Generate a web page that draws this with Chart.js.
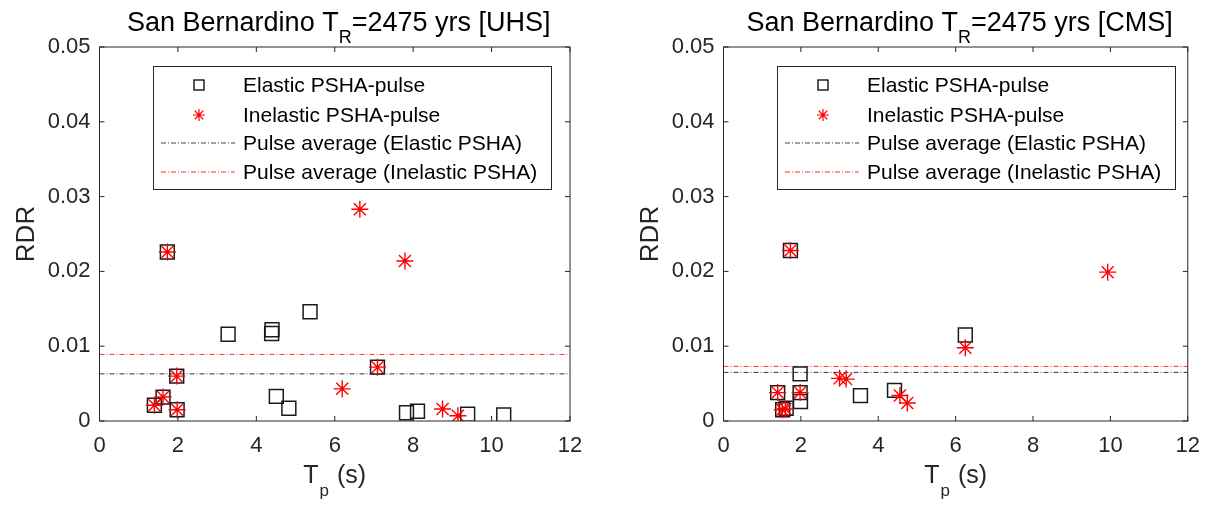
<!DOCTYPE html>
<html>
<head>
<meta charset="utf-8">
<script src="https://cdn.jsdelivr.net/npm/chart.js@4/dist/chart.umd.min.js"></script>
<style>
  body { margin: 0; background: #fff; }
  .wrap { position: relative; width: 1212px; height: 505px; }
  .panel { position: absolute; top: 0; }
</style>
</head>
<body>
<div class="wrap">
  <canvas id="uhsChart" class="panel" style="left:0" width="606" height="505"></canvas>
  <canvas id="cmsChart" class="panel" style="left:606px" width="606" height="505"></canvas>
</div>
<script>
// pulse period (s) and RDR, UHS case
const tpElasticUHS = [1.40, 1.62, 1.73, 1.97, 1.98, 3.28, 4.39, 4.40, 4.51, 4.83, 5.37, 7.09, 7.83, 8.11, 9.39, 10.31];
const rdrElasticUHS = [0.0021, 0.0032, 0.0226, 0.0060, 0.0015, 0.0116, 0.0117, 0.0122, 0.0033, 0.0017, 0.0146, 0.0072, 0.0011, 0.0013, 0.0009, 0.0008];
const tpInelasticUHS = [1.40, 1.62, 1.73, 1.97, 1.98, 6.19, 6.64, 7.09, 7.79, 8.75, 9.14];
const rdrInelasticUHS = [0.0021, 0.0032, 0.0226, 0.0060, 0.0015, 0.0043, 0.0283, 0.0072, 0.0214, 0.0016, 0.0007];
const avgUHS = [0.0063, 0.0089]; // elastic, inelastic

// CMS case
const tpElasticCMS = [1.40, 1.53, 1.62, 1.73, 1.98, 1.98, 1.99, 3.54, 4.42, 6.25];
const rdrElasticCMS = [0.0038, 0.0015, 0.0017, 0.0228, 0.0063, 0.0038, 0.0026, 0.0034, 0.0041, 0.0115];
const tpInelasticCMS = [1.40, 1.52, 1.60, 1.73, 1.98, 3.00, 3.17, 4.56, 4.75, 6.25, 9.93];
const rdrInelasticCMS = [0.0038, 0.0015, 0.0016, 0.0228, 0.0038, 0.0057, 0.0056, 0.0034, 0.0024, 0.0098, 0.0199];
const avgCMS = [0.0065, 0.0073];

const xTicks = [0, 2, 4, 6, 8, 10, 12];
const yTicks = [0, 0.01, 0.02, 0.03, 0.04, 0.05];
const legendLabels = ['Elastic PSHA-pulse', 'Inelastic PSHA-pulse',
  'Pulse average (Elastic PSHA)', 'Pulse average (Inelastic PSHA)'];

const FONT = "'Liberation Sans', Arial, Helvetica, sans-serif";
const INK = '#262626';
const DASHDOT = [5, 2, 1, 2];

function pts(xs, ys) {
  return xs.map((x, i) => ({ x: x, y: ys[i] }));
}

function flat(v) {
  return [{ x: xTicks[0], y: v }, { x: xTicks[xTicks.length - 1], y: v }];
}

function drawStar(ctx, x, y, r) {
  ctx.beginPath();
  for (let k = 0; k < 4; k++) {
    const a = k * Math.PI / 4;
    ctx.moveTo(x - r * Math.cos(a), y - r * Math.sin(a));
    ctx.lineTo(x + r * Math.cos(a), y + r * Math.sin(a));
  }
  ctx.stroke();
}

// frame, inward ticks, titles and the boxed legend
const decorations = {
  id: 'decorations',
  afterDraw(chart, args, opts) {
    const ctx = chart.ctx;
    const a = chart.chartArea;
    const xs = chart.scales.x, ys = chart.scales.y;
    ctx.save();

    ctx.strokeStyle = INK;
    ctx.lineWidth = 1;
    ctx.strokeRect(a.left, a.top, a.right - a.left, a.bottom - a.top);
    ctx.beginPath();
    xTicks.forEach(v => {
      const px = xs.getPixelForValue(v);
      ctx.moveTo(px, a.bottom); ctx.lineTo(px, a.bottom - 5);
      ctx.moveTo(px, a.top); ctx.lineTo(px, a.top + 5);
    });
    yTicks.forEach(v => {
      const py = ys.getPixelForValue(v);
      ctx.moveTo(a.left, py); ctx.lineTo(a.left + 5, py);
      ctx.moveTo(a.right, py); ctx.lineTo(a.right - 5, py);
    });
    ctx.stroke();

    ctx.fillStyle = '#000';
    ctx.textBaseline = 'alphabetic';
    ctx.textAlign = 'left';

    // title with subscript R
    const big = '27px ' + FONT, small = '18px ' + FONT;
    const t1 = 'San Bernardino T', t2 = 'R', t3 = '=2475 yrs [' + opts.tag + ']';
    ctx.font = big;
    const w1 = ctx.measureText(t1).width, w3 = ctx.measureText(t3).width;
    ctx.font = small;
    const w2 = ctx.measureText(t2).width;
    const cx = (a.left + a.right) / 2 + 4;
    let tx = cx - (w1 + w2 + w3) / 2;
    ctx.font = big; ctx.fillText(t1, tx, 31); tx += w1;
    ctx.font = small; ctx.fillText(t2, tx, 43); tx += w2;
    ctx.font = big; ctx.fillText(t3, tx, 31);

    // x axis title T_p (s)
    ctx.fillStyle = INK;
    const xb = '25px ' + FONT, xsm = '17px ' + FONT;
    ctx.font = xb;
    const u1 = ctx.measureText('T').width, u3 = ctx.measureText(' (s)').width;
    ctx.font = xsm;
    const u2 = ctx.measureText('p').width + 2;
    let ux = (a.left + a.right) / 2 - (u1 + u2 + u3) / 2;
    ctx.font = xb; ctx.fillText('T', ux, 483); ux += u1;
    ctx.font = xsm; ctx.fillText('p', ux + 1, 496); ux += u2;
    ctx.font = xb; ctx.fillText(' (s)', ux, 483);

    // y axis title
    ctx.save();
    ctx.translate(opts.yTitleX, (a.top + a.bottom) / 2);
    ctx.rotate(-Math.PI / 2);
    ctx.textAlign = 'center';
    ctx.textBaseline = 'middle';
    ctx.font = '26px ' + FONT;
    ctx.fillText('RDR', 0, 0);
    ctx.restore();

    // legend
    const L = opts.legendLeft, T = 66, W = 398, H = 123;
    ctx.fillStyle = '#fff';
    ctx.fillRect(L, T, W, H);
    ctx.strokeStyle = INK;
    ctx.lineWidth = 1;
    ctx.strokeRect(L + 0.5, T + 0.5, W, H);
    const rows = [85, 115, 143, 172];
    const mx = L + 46;
    ctx.strokeStyle = '#000';
    ctx.lineWidth = 1.3;
    ctx.strokeRect(mx - 5, rows[0] - 5, 10, 10);
    ctx.strokeStyle = '#ff0000';
    ctx.lineWidth = 1.2;
    drawStar(ctx, mx, rows[1], 6);
    ctx.lineWidth = 1;
    ctx.setLineDash(DASHDOT);
    ctx.strokeStyle = '#444';
    ctx.beginPath(); ctx.moveTo(L + 8, rows[2]); ctx.lineTo(L + 82, rows[2]); ctx.stroke();
    ctx.strokeStyle = '#ff3030';
    ctx.beginPath(); ctx.moveTo(L + 8, rows[3]); ctx.lineTo(L + 82, rows[3]); ctx.stroke();
    ctx.setLineDash([]);
    ctx.fillStyle = '#000';
    ctx.font = '21px ' + FONT;
    ctx.textBaseline = 'middle';
    legendLabels.forEach((s, i) => ctx.fillText(s, L + 90, rows[i] + 1));

    ctx.restore();
  }
};

function makeChart(id, tag, elastic, inelastic, avg, left, right, legendLeft, yTitleX) {
  const top = 47, bottom = 421, W = 606, H = 505;
  const tickFont = { family: FONT, size: 22 };
  return new Chart(document.getElementById(id), {
    type: 'scatter',
    data: {
      datasets: [
        {
          label: legendLabels[2], data: flat(avg[0]), showLine: true,
          borderColor: '#333', borderWidth: 1, borderDash: DASHDOT,
          pointRadius: 0, order: 3
        },
        {
          label: legendLabels[3], data: flat(avg[1]), showLine: true,
          borderColor: '#ff3030', borderWidth: 1, borderDash: DASHDOT,
          pointRadius: 0, order: 3
        },
        {
          label: legendLabels[0], data: elastic, pointStyle: 'rect',
          pointRadius: 9.8, pointBorderColor: '#1a1a1a', pointBorderWidth: 1.5,
          pointBackgroundColor: 'rgba(0,0,0,0)', order: 2
        },
        {
          label: legendLabels[1], data: inelastic, pointStyle: 'star',
          pointRadius: 8.5, pointBorderColor: '#ff0000', pointBorderWidth: 1.4,
          pointBackgroundColor: '#ff0000', order: 1
        }
      ]
    },
    options: {
      responsive: false,
      animation: false,
      events: [],
      layout: { padding: { left: 0, top: top, right: W - right, bottom: 0 } },
      plugins: {
        legend: { display: false },
        tooltip: { enabled: false },
        decorations: { tag: tag, legendLeft: legendLeft, yTitleX: yTitleX }
      },
      scales: {
        x: {
          type: 'linear', min: 0, max: 12,
          afterBuildTicks: s => { s.ticks = xTicks.map(v => ({ value: v })); },
          afterFit: s => { s.height = H - bottom; },
          grid: { display: false, drawTicks: false },
          border: { display: false },
          ticks: { font: tickFont, color: INK, padding: 12, maxRotation: 0 }
        },
        y: {
          type: 'linear', min: 0, max: 0.05,
          afterBuildTicks: s => { s.ticks = yTicks.map(v => ({ value: v })); },
          afterFit: s => { s.width = left; },
          grid: { display: false, drawTicks: false },
          border: { display: false },
          ticks: {
            font: tickFont, color: INK, padding: 9,
            callback: v => v === 0 ? '0' : v.toFixed(2)
          }
        }
      }
    },
    plugins: [decorations]
  });
}

makeChart('uhsChart', 'UHS', pts(tpElasticUHS, rdrElasticUHS), pts(tpInelasticUHS, rdrInelasticUHS),
  avgUHS, 99.5, 570, 153, 27);
makeChart('cmsChart', 'CMS', pts(tpElasticCMS, rdrElasticCMS), pts(tpInelasticCMS, rdrInelasticCMS),
  avgCMS, 117.5, 585, 171, 45);
</script>
</body>
</html>
